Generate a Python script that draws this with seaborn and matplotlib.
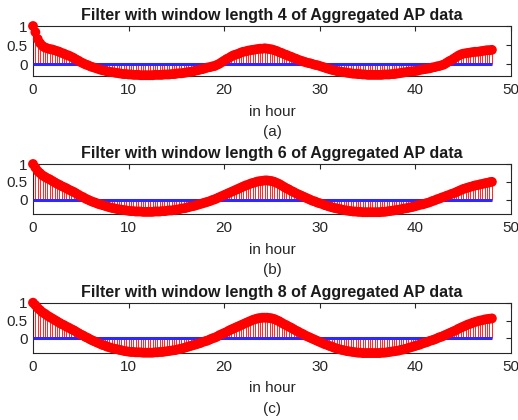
import numpy as np
import pandas as pd
import matplotlib
matplotlib.use("Agg")
import matplotlib.pyplot as plt
import seaborn as sns

# lag axis in hours (15-minute steps, 0..48 h)
lag_hours = np.linspace(0, 48, 193)

window_lengths = [4, 6, 8]
panel_letters = ["(a)", "(b)", "(c)"]

acf_w4 = [
    1.00, 0.84, 0.66, 0.55, 0.48, 0.44, 0.42, 0.40, 0.39, 0.37, 0.35, 0.33,
    0.30, 0.28, 0.25, 0.23, 0.20, 0.17, 0.13, 0.10, 0.06, 0.03, 0.00, -0.02,
    -0.05, -0.07, -0.09, -0.11, -0.13, -0.15, -0.16, -0.18, -0.19, -0.20, -0.21, -0.22,
    -0.23, -0.24, -0.25, -0.25, -0.26, -0.26, -0.27, -0.27, -0.27, -0.28, -0.28, -0.28,
    -0.28, -0.28, -0.28, -0.27, -0.27, -0.27, -0.27, -0.26, -0.26, -0.26, -0.25, -0.25,
    -0.24, -0.23, -0.23, -0.22, -0.21, -0.20, -0.19, -0.18, -0.16, -0.15, -0.13, -0.12,
    -0.10, -0.08, -0.07, -0.05, -0.04, -0.01, 0.02, 0.06, 0.10, 0.14, 0.17, 0.21,
    0.24, 0.26, 0.28, 0.31, 0.33, 0.34, 0.36, 0.37, 0.38, 0.39, 0.40, 0.41,
    0.41, 0.42, 0.41, 0.40, 0.39, 0.37, 0.35, 0.32, 0.30, 0.27, 0.25, 0.22,
    0.20, 0.17, 0.15, 0.12, 0.10, 0.08, 0.06, 0.04, 0.03, 0.01, -0.01, -0.02,
    -0.04, -0.06, -0.08, -0.10, -0.12, -0.14, -0.15, -0.17, -0.18, -0.19, -0.20, -0.21,
    -0.22, -0.23, -0.24, -0.24, -0.25, -0.25, -0.26, -0.26, -0.27, -0.27, -0.27, -0.27,
    -0.27, -0.27, -0.27, -0.26, -0.26, -0.26, -0.25, -0.25, -0.24, -0.23, -0.22, -0.21,
    -0.20, -0.19, -0.18, -0.18, -0.17, -0.16, -0.14, -0.13, -0.12, -0.11, -0.10, -0.08,
    -0.07, -0.05, -0.04, -0.02, 0.00, 0.04, 0.08, 0.11, 0.15, 0.19, 0.23, 0.26,
    0.28, 0.29, 0.30, 0.31, 0.32, 0.33, 0.33, 0.34, 0.35, 0.36, 0.37, 0.37,
    0.38,
]

acf_w6 = [
    1.00, 0.90, 0.80, 0.74, 0.68, 0.64, 0.60, 0.57, 0.53, 0.49, 0.45, 0.42,
    0.38, 0.35, 0.32, 0.28, 0.25, 0.22, 0.18, 0.14, 0.10, 0.07, 0.03, 0.00,
    -0.03, -0.06, -0.08, -0.11, -0.13, -0.15, -0.17, -0.19, -0.21, -0.23, -0.24, -0.26,
    -0.27, -0.28, -0.29, -0.30, -0.31, -0.32, -0.32, -0.33, -0.33, -0.33, -0.34, -0.34,
    -0.34, -0.34, -0.34, -0.33, -0.33, -0.33, -0.32, -0.32, -0.31, -0.30, -0.30, -0.29,
    -0.28, -0.27, -0.25, -0.24, -0.23, -0.21, -0.19, -0.18, -0.16, -0.14, -0.12, -0.10,
    -0.08, -0.06, -0.04, -0.01, 0.01, 0.04, 0.07, 0.10, 0.13, 0.16, 0.19, 0.22,
    0.25, 0.28, 0.31, 0.34, 0.37, 0.40, 0.42, 0.45, 0.47, 0.49, 0.51, 0.52,
    0.53, 0.54, 0.54, 0.53, 0.52, 0.50, 0.47, 0.44, 0.40, 0.36, 0.32, 0.29,
    0.25, 0.22, 0.18, 0.15, 0.12, 0.09, 0.06, 0.03, 0.00, -0.03, -0.05, -0.08,
    -0.10, -0.12, -0.15, -0.17, -0.19, -0.21, -0.23, -0.24, -0.26, -0.27, -0.29, -0.30,
    -0.31, -0.32, -0.33, -0.33, -0.34, -0.34, -0.35, -0.35, -0.35, -0.35, -0.35, -0.35,
    -0.35, -0.35, -0.34, -0.34, -0.33, -0.32, -0.31, -0.30, -0.29, -0.28, -0.27, -0.25,
    -0.24, -0.23, -0.21, -0.20, -0.18, -0.16, -0.14, -0.13, -0.11, -0.09, -0.07, -0.04,
    -0.02, 0.01, 0.03, 0.06, 0.08, 0.11, 0.13, 0.16, 0.18, 0.21, 0.24, 0.27,
    0.30, 0.32, 0.34, 0.36, 0.38, 0.40, 0.41, 0.43, 0.44, 0.46, 0.47, 0.49,
    0.50,
]

acf_w8 = [
    1.00, 0.93, 0.85, 0.79, 0.73, 0.69, 0.64, 0.60, 0.56, 0.52, 0.48, 0.44,
    0.40, 0.37, 0.33, 0.30, 0.26, 0.23, 0.19, 0.15, 0.11, 0.08, 0.04, 0.01,
    -0.03, -0.06, -0.09, -0.12, -0.15, -0.18, -0.20, -0.23, -0.25, -0.27, -0.29, -0.30,
    -0.32, -0.33, -0.35, -0.36, -0.37, -0.38, -0.38, -0.39, -0.39, -0.39, -0.40, -0.40,
    -0.40, -0.40, -0.40, -0.39, -0.39, -0.38, -0.38, -0.37, -0.36, -0.35, -0.34, -0.33,
    -0.32, -0.30, -0.29, -0.27, -0.25, -0.23, -0.21, -0.19, -0.17, -0.15, -0.13, -0.10,
    -0.08, -0.06, -0.03, 0.00, 0.02, 0.05, 0.09, 0.12, 0.15, 0.18, 0.22, 0.25,
    0.28, 0.31, 0.34, 0.37, 0.40, 0.43, 0.46, 0.49, 0.52, 0.54, 0.56, 0.57,
    0.58, 0.58, 0.58, 0.57, 0.56, 0.54, 0.51, 0.48, 0.44, 0.40, 0.37, 0.33,
    0.30, 0.26, 0.22, 0.19, 0.15, 0.12, 0.08, 0.05, 0.02, -0.01, -0.04, -0.07,
    -0.10, -0.13, -0.16, -0.18, -0.21, -0.23, -0.26, -0.28, -0.30, -0.32, -0.33, -0.35,
    -0.36, -0.37, -0.38, -0.39, -0.40, -0.40, -0.41, -0.41, -0.41, -0.41, -0.41, -0.41,
    -0.41, -0.41, -0.40, -0.40, -0.39, -0.38, -0.37, -0.36, -0.35, -0.34, -0.32, -0.31,
    -0.29, -0.27, -0.25, -0.23, -0.21, -0.19, -0.17, -0.14, -0.12, -0.10, -0.07, -0.05,
    -0.03, 0.00, 0.03, 0.05, 0.08, 0.11, 0.14, 0.17, 0.20, 0.23, 0.27, 0.30,
    0.33, 0.36, 0.39, 0.41, 0.44, 0.46, 0.48, 0.50, 0.51, 0.53, 0.54, 0.55,
    0.56,
]

series = [acf_w4, acf_w6, acf_w8]
ylims = [(-0.3, 1.0), (-0.4, 1.0), (-0.4, 1.0)]
xticks = [0, 10, 20, 30, 40, 50]
yticks = [0, 0.5, 1]
ytick_labels = ["0", "0.5", "1"]

sns.set_style("white")
plt.rcParams["font.family"] = ["Liberation Sans", "DejaVu Sans"]

fig = plt.figure(figsize=(5.18, 4.20), dpi=100)
W, H = 518, 420
ax_left, ax_right = 33, 511
tops = [26, 164, 302.7]
ax_h = 50

for i, (vals, ylim) in enumerate(zip(series, ylims)):
    top = tops[i]
    ax = fig.add_axes([ax_left / W, 1 - (top + ax_h) / H,
                       (ax_right - ax_left) / W, ax_h / H])
    df = pd.DataFrame({"lag": lag_hours, "acf": vals})
    # stems
    ax.vlines(df["lag"], 0, df["acf"], color="#ff2a2a", lw=0.75, zorder=2)
    # baseline
    ax.hlines(0, df["lag"].min(), df["lag"].max(), color="#2a2aff", lw=2.2, zorder=3)
    # markers
    sns.scatterplot(data=df, x="lag", y="acf", ax=ax, color="#ff0000",
                    s=50, edgecolor="none", linewidth=0, zorder=4,
                    clip_on=False, legend=False)
    ax.set_xlim(0, 50)
    ax.set_ylim(*ylim)
    ax.set_xticks(xticks)
    ax.set_xticklabels([str(t) for t in xticks])
    ax.set_yticks(yticks)
    ax.set_yticklabels(ytick_labels)
    ax.tick_params(direction="in", length=3.5, width=0.8, top=True, right=True,
                   labelsize=11, colors="#262626", pad=5)
    ax.tick_params(axis="y", pad=4)
    for sp in ax.spines.values():
        sp.set_visible(True)
        sp.set_color("#262626")
        sp.set_linewidth(0.8)
    ax.set_ylabel("")
    ax.set_xlabel("in hour\n" + panel_letters[i], fontsize=11,
                  color="#262626", labelpad=5.5, linespacing=1.6)
    ax.set_title("Filter with window length %d of Aggregated AP data" % window_lengths[i],
                 fontsize=11.5, fontweight="bold", color="#1a1a1a", pad=4)

fig.savefig("out.png", dpi=100)
